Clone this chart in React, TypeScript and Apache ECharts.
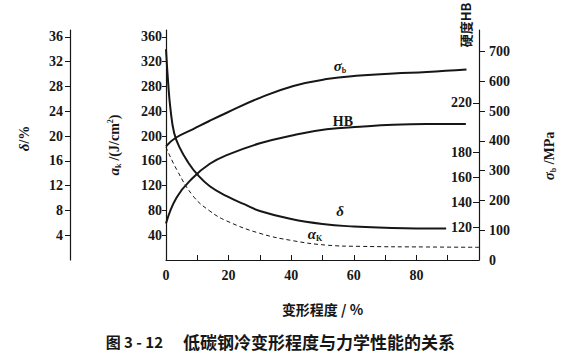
import React, { useEffect, useRef } from "react";
import * as echarts from "echarts";

// ---- tick labels ----
const xLabelValues = [0, 20, 40, 60, 80];
const deltaTickValues = [4, 8, 12, 16, 20, 24, 28, 32, 36];
const akTickValues = [40, 80, 120, 160, 200, 240, 280, 320, 360];
const sigmaTickValues = [0, 100, 200, 300, 400, 500, 600, 700];
const hbTickValues = [120, 140, 160, 180, 220];

// ---- series (strain %, value) ----
const sigmaStrain = [0, 3, 8.7, 14, 19.4, 30, 40.7, 51.3, 62, 72.6, 83.3, 96];
const sigmaValues = [382, 410, 440, 468, 495, 545, 585, 608, 620, 627, 632, 640];

const hbStrain = [0, 3.4, 8.7, 14, 19.4, 30, 40.7, 51.3, 62, 72.6, 83.3, 95.8];
const hbValues = [123, 144, 160, 171, 178, 187.5, 194, 198.7, 200.8, 202.4, 203, 203];

const deltaStrain = [0, 0.7, 1.4, 2.6, 4.5, 7, 10, 14, 19.4, 25, 30, 40, 50, 60, 70, 80, 89.5];
const deltaValues = [34, 28.5, 24.5, 20.5, 18, 15.8, 13.8, 11.9, 10.3, 9, 7.9, 6.6, 5.8, 5.4, 5.2, 5.1, 5.1];

const akStrain = [0, 3.4, 8.7, 14, 19.4, 30, 40.7, 51.3, 62, 83.3, 100];
const akValues = [182, 146, 103, 79, 63, 43, 31, 24, 22, 21, 20.5];

const pair = (xs: number[], ys: number[]) => xs.map((x, i) => [x, ys[i]]);

const INK = "#161616";
const SERIF = "Liberation Serif";
const CJK = "Noto Sans CJK SC";

const numLabel = {
  fontFamily: SERIF,
  fontWeight: "bold" as const,
  fontSize: 14,
  color: INK,
};

const richBase = {
  i: { fontFamily: SERIF, fontStyle: "italic", fontWeight: "bold", fontSize: 15, color: INK, lineHeight: 16 },
  n: { fontFamily: SERIF, fontWeight: "bold", fontSize: 14, color: INK, lineHeight: 16 },
  sub: { fontFamily: SERIF, fontWeight: "bold", fontSize: 8, color: INK, verticalAlign: "bottom", lineHeight: 8 },
  sup: { fontFamily: SERIF, fontWeight: "bold", fontSize: 8, color: INK, verticalAlign: "top", lineHeight: 8 },
};

function curveLabel(coord: number[], text: string) {
  return {
    symbol: "circle",
    symbolSize: 0,
    silent: true,
    itemStyle: { color: "transparent" },
    label: {
      show: true,
      position: "inside",
      color: INK,
      formatter: text,
      rich: richBase,
    },
    data: [{ coord }],
  };
}

export default function App() {
  const ref = useRef<HTMLDivElement>(null);
  useEffect(() => {
    document.body.style.margin = "0";
    if (!ref.current) return;
    const chart = echarts.init(ref.current, null, { renderer: "svg" });
    const lineBase = {
      type: "line" as const,
      xAxisIndex: 0,
      smooth: 0.45,
      symbol: "none",
      showSymbol: false,
      silent: true,
    };
    chart.setOption({
      animation: false,
      backgroundColor: "#ffffff",
      textStyle: { fontFamily: SERIF },
      grid: { left: 166, right: 86, top: 30, bottom: 104, containLabel: false, outerBoundsMode: "none" },
      xAxis: {
        type: "value",
        min: 0,
        max: 100,
        interval: 10,
        name: "变形程度 / %",
        nameLocation: "middle",
        nameGap: 42,
        nameTextStyle: { fontFamily: CJK, fontWeight: "bold", fontSize: 14, color: INK },
        axisLine: { onZero: false, lineStyle: { color: INK, width: 1.2 } },
        axisTick: { inside: true, length: 5, lineStyle: { color: INK } },
        axisLabel: {
          ...numLabel,
          margin: 8,
          formatter: (v: number) => (xLabelValues.includes(v) ? String(v) : ""),
        },
        splitLine: { show: false },
      },
      yAxis: [
        {
          type: "value",
          position: "left",
          offset: 96,
          min: 0,
          max: 37.1,
          name: "{i|δ}{n|/%}",
          nameLocation: "middle",
          nameGap: 38,
          nameTextStyle: { rich: richBase, padding: [0, 0, 0, 13] },
          axisLine: { show: true, onZero: false, lineStyle: { color: INK, width: 1.2 } },
          axisTick: { show: true, length: 5, customValues: deltaTickValues, lineStyle: { color: INK } },
          axisLabel: { ...numLabel, margin: 7, customValues: deltaTickValues },
          splitLine: { show: false },
        },
        {
          type: "value",
          position: "left",
          offset: 0,
          min: 0,
          max: 371,
          name: "{i|a}{sub|k} {n|/(J/cm}{sup|2}{n|)}",
          nameLocation: "middle",
          nameGap: 44,
          nameTextStyle: { rich: richBase },
          axisLine: { show: true, onZero: false, lineStyle: { color: INK, width: 1.2 } },
          axisTick: { show: true, length: 4, customValues: akTickValues, lineStyle: { color: INK } },
          axisLabel: { ...numLabel, margin: 4, customValues: akTickValues },
          splitLine: { show: false },
        },
        {
          type: "value",
          position: "right",
          offset: 0,
          min: 0,
          max: 773,
          name: "{i|σ}{sub|b}{n| /MPa}",
          nameLocation: "middle",
          nameGap: 62,
          nameTextStyle: { rich: richBase, padding: [0, 22, 0, 0] },
          axisLine: { show: true, onZero: false, lineStyle: { color: INK, width: 1.2 } },
          axisTick: {
            show: true,
            length: 6,
            customValues: sigmaTickValues.filter((v) => v > 0),
            lineStyle: { color: INK },
          },
          axisLabel: { ...numLabel, margin: 10, customValues: sigmaTickValues },
          splitLine: { show: false },
        },
        {
          type: "value",
          position: "right",
          offset: 0,
          min: 93.7,
          max: 278.5,
          axisLine: { show: false, onZero: false },
          axisTick: { show: true, inside: true, length: 6, customValues: hbTickValues, lineStyle: { color: INK } },
          axisLabel: { ...numLabel, inside: true, margin: 7, customValues: hbTickValues },
          splitLine: { show: false },
        },
      ],
      series: [
        {
          ...lineBase,
          name: "σb",
          yAxisIndex: 2,
          data: pair(sigmaStrain, sigmaValues),
          lineStyle: { color: INK, width: 2 },
          markPoint: curveLabel([55.6, 651], "{i|σ}{sub|b}"),
        },
        {
          ...lineBase,
          name: "HB",
          yAxisIndex: 3,
          data: pair(hbStrain, hbValues),
          lineStyle: { color: INK, width: 2 },
          markPoint: curveLabel([56.5, 205], "{n|HB}"),
        },
        {
          ...lineBase,
          name: "δ",
          yAxisIndex: 0,
          data: pair(deltaStrain, deltaValues),
          lineStyle: { color: INK, width: 2 },
          markPoint: curveLabel([55.6, 7.9], "{i|δ}"),
        },
        {
          ...lineBase,
          name: "αK",
          yAxisIndex: 1,
          data: pair(akStrain, akValues),
          lineStyle: { color: INK, width: 1, type: [4, 3] },
          markPoint: curveLabel([47.6, 41.7], "{i|α}{sub|K}"),
        },
      ],
      graphic: [
        {
          type: "text",
          x: 465,
          y: 25,
          rotation: Math.PI / 2,
          silent: true,
          style: {
            text: "硬度HB",
            fontFamily: CJK,
            fontWeight: "bold",
            fontSize: 13,
            fill: INK,
            align: "center",
            verticalAlign: "middle",
          },
        },
        {
          type: "text",
          x: 163,
          y: 341,
          silent: true,
          style: {
            text: "图 3 - 12",
            fontFamily: CJK,
            fontWeight: "bold",
            fontSize: 15,
            fill: INK,
            align: "right",
            verticalAlign: "middle",
          },
        },
        {
          type: "text",
          x: 183,
          y: 341,
          silent: true,
          style: {
            text: "低碳钢冷变形程度与力学性能的关系",
            fontFamily: CJK,
            fontWeight: "bold",
            fontSize: 17,
            fill: INK,
            align: "left",
            verticalAlign: "middle",
          },
        },
      ],
    });
    return () => chart.dispose();
  }, []);
  return <div ref={ref} style={{ width: 565, height: 364 }} />;
}
